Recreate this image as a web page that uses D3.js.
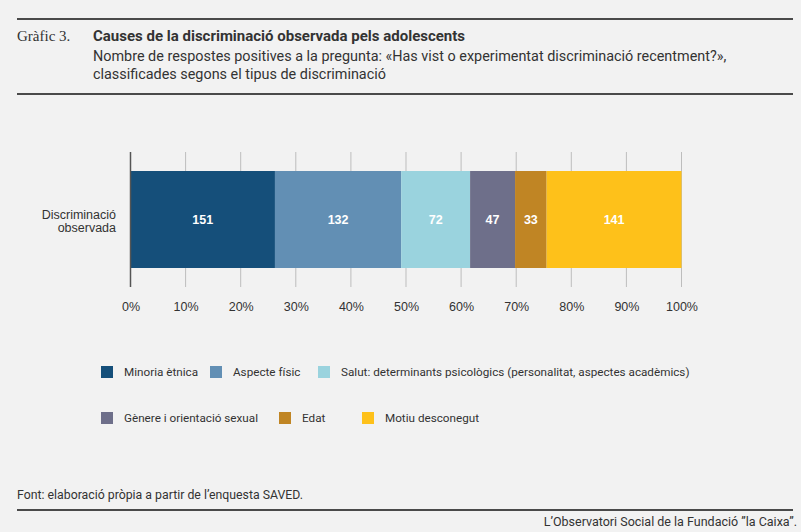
<!DOCTYPE html>
<html><head><meta charset="utf-8">
<script src="https://cdn.jsdelivr.net/npm/d3@7"></script>
<style>
html,body{margin:0;padding:0;background:#f2f2f2;}
svg{display:block;}
text{font-family:"Roboto","Liberation Sans",sans-serif;}
</style></head>
<body>
<svg id="chart" width="801" height="532"></svg>
<script>
const rowLabel = ["Discriminació", "observada"];
const categories = ["Minoria ètnica", "Aspecte físic", "Salut: determinants psicològics (personalitat, aspectes acadèmics)", "Gènere i orientació sexual", "Edat", "Motiu desconegut"];
const values = [151, 132, 72, 47, 33, 141];
const colors = ["#154f7a", "#628fb4", "#9ad3de", "#6e6f8a", "#c08524", "#fec11a"];
const ticks = [0, 0.1, 0.2, 0.3, 0.4, 0.5, 0.6, 0.7, 0.8, 0.9, 1.0];
const legendRows = [[0, 1, 2], [3, 4, 5]];

const svg = d3.select("#chart");
svg.append("rect").attr("width", 801).attr("height", 532).attr("fill", "#f2f2f2");

// header
svg.append("line").attr("x1", 17).attr("x2", 793).attr("y1", 19).attr("y2", 19).attr("stroke", "#4a4a4a").attr("stroke-width", 2);
svg.append("line").attr("x1", 17).attr("x2", 793).attr("y1", 94).attr("y2", 94).attr("stroke", "#4a4a4a").attr("stroke-width", 2);
svg.append("text").attr("x", 17).attr("y", 41).attr("font-size", 15).style("font-family", "'Liberation Serif','DejaVu Serif',serif").attr("fill", "#333").text("Gràfic 3.");
svg.append("text").attr("x", 93).attr("y", 41).attr("font-size", 15).attr("font-weight", "bold").attr("fill", "#333").text("Causes de la discriminació observada pels adolescents");
svg.append("text").attr("x", 93).attr("y", 61).attr("font-size", 14.4).attr("fill", "#333").text("Nombre de respostes positives a la pregunta: «Has vist o experimentat discriminació recentment?»,");
svg.append("text").attr("x", 93).attr("y", 79).attr("font-size", 14.4).attr("fill", "#333").text("classificades segons el tipus de discriminació");

// scales
const total = d3.sum(values);
const x = d3.scaleLinear().domain([0, 1]).range([130.5, 681.5]);
const y = d3.scaleBand().domain(["row"]).range([152, 287]).paddingInner(0).paddingOuter(0.196);

// grid
svg.append("g").selectAll("line").data(ticks.slice(1)).join("line")
  .attr("x1", d => x(d)).attr("x2", d => x(d)).attr("y1", 152).attr("y2", 287)
  .attr("stroke", "#bdbdbd").attr("stroke-width", 1);

// stacked segments
let cum = 0;
const segs = values.map((v, i) => { const s = { i, v, x0: cum / total, x1: (cum + v) / total }; cum += v; return s; });
svg.append("g").selectAll("rect").data(segs).join("rect")
  .attr("x", d => x(d.x0)).attr("width", d => x(d.x1) - x(d.x0))
  .attr("y", y("row")).attr("height", y.bandwidth())
  .attr("fill", d => colors[d.i]);
svg.append("g").selectAll("text").data(segs).join("text")
  .attr("x", d => (x(d.x0) + x(d.x1)) / 2).attr("y", y("row") + y.bandwidth() / 2 + 4.5)
  .attr("text-anchor", "middle").attr("font-size", 12.5).attr("font-weight", "bold").attr("fill", "#fff")
  .style("font-family", "'Liberation Sans',Arial,sans-serif")
  .text(d => d.v);

// zero axis
svg.append("line").attr("x1", x(0)).attr("x2", x(0)).attr("y1", 152).attr("y2", 287).attr("stroke", "#555").attr("stroke-width", 1.5);

// axis labels
const axis = d3.axisBottom(x).tickValues(ticks).tickFormat(d3.format(".0%")).tickSize(0).tickPadding(0);
const ag = svg.append("g").attr("transform", "translate(0,302)").call(axis);
ag.select(".domain").remove();
ag.selectAll("text").attr("font-size", 12.5).attr("fill", "#333").attr("dy", "0.71em")
  .style("font-family", "'Liberation Sans',Arial,sans-serif");

// row label
svg.append("g").selectAll("text").data(rowLabel).join("text")
  .attr("x", 116).attr("y", (d, i) => 219 + i * 12.5).attr("text-anchor", "end")
  .attr("font-size", 12.5).attr("fill", "#333").style("font-family", "'Liberation Sans',Arial,sans-serif")
  .text(d => d);

// legend
const legendX = [[101, 210, 318], [101, 279, 362]];
const legendY = [372, 418];
legendRows.forEach((row, r) => {
  row.forEach((ci, k) => {
    const g = svg.append("g").attr("transform", `translate(${legendX[r][k]},${legendY[r]})`);
    g.append("rect").attr("x", 0).attr("y", -6).attr("width", 12).attr("height", 12).attr("fill", colors[ci]);
    g.append("text").attr("x", 23).attr("y", 4.3).attr("font-size", 11.7).attr("fill", "#333").text(categories[ci]);
  });
});

// footer
svg.append("text").attr("x", 17).attr("y", 499).attr("font-size", 12.3).attr("fill", "#333").text("Font: elaboració pròpia a partir de l’enquesta SAVED.");
svg.append("line").attr("x1", 17).attr("x2", 793).attr("y1", 510).attr("y2", 510).attr("stroke", "#4a4a4a").attr("stroke-width", 2);
svg.append("text").attr("x", 797).attr("y", 526).attr("text-anchor", "end").attr("font-size", 12.5).attr("fill", "#333").text("L’Observatori Social de la Fundació ”la Caixa”.");
</script>
</body></html>
